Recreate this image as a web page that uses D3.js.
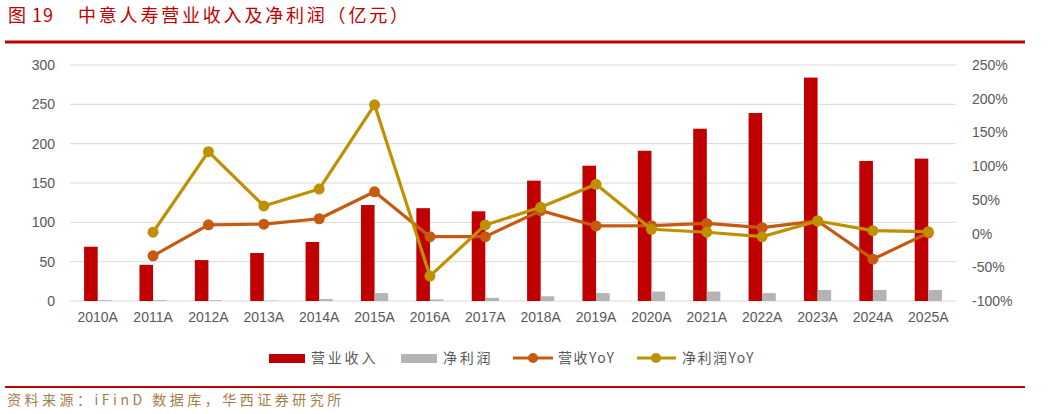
<!DOCTYPE html>
<html>
<head>
<meta charset="utf-8">
<title>中意人寿营业收入及净利润</title>
<style>
  body { margin: 0; background: #fff; }
  text { font-family: "Liberation Sans", Arial, sans-serif; }
  .cn { font-family: "Noto Sans CJK SC", sans-serif; }
</style>
</head>
<body>
<script src="https://cdn.jsdelivr.net/npm/d3@7"></script>
<script>
// 数据
const years = ["2010A","2011A","2012A","2013A","2014A","2015A","2016A","2017A","2018A","2019A","2020A","2021A","2022A","2023A","2024A","2025A"];
const revenue = [69, 46, 52, 61, 75, 122, 118, 114, 153, 172, 191, 219, 239, 284, 178, 181];
const profit = [1, 1, 1, 0.5, 2.5, 10, 2, 4, 6, 10, 12, 12, 10, 14, 14, 14];
const revYoY = [null, -33, 13, 14, 22, 62, -4.6, -4.6, 34, 11.3, 11.7, 15, 8.8, 18.7, -38, 1];
const profitYoY = [null, 2, 121.5, 41, 66, 191, -63, 12.8, 39, 73, 6.4, 2, -4.6, 18.7, 4.3, 2.8];
const leftTicks = [0, 50, 100, 150, 200, 250, 300];
const rightTicks = [-100, -50, 0, 50, 100, 150, 200, 250];

const W = 1053, H = 414;
const plot = { left: 70, right: 956, top: 65, bottom: 301 };

const svg = d3.select("body").append("svg")
    .attr("width", W)
    .attr("height", H);

// 标题
const title = svg.append("text").attr("class", "cn")
    .attr("y", 22).attr("fill", "#c00000").style("font-size", "18px");
title.append("tspan").attr("x", 8).attr("letter-spacing", "1px").text("图 19");
title.append("tspan").attr("x", 78).attr("letter-spacing", "2.8px").text("中意人寿营业收入及净利润（亿元）");

svg.append("line").attr("x1", 5).attr("x2", 1025).attr("y1", 42).attr("y2", 42)
    .attr("stroke", "#c00000").attr("stroke-width", 3);
svg.append("line").attr("x1", 5).attr("x2", 1025).attr("y1", 387).attr("y2", 387)
    .attr("stroke", "#c00000").attr("stroke-width", 2);

svg.append("text").attr("class", "cn")
    .attr("x", 7).attr("y", 405)
    .attr("fill", "#a0804a").style("font-size", "14px")
    .attr("letter-spacing", "3.5px")
    .text("资料来源：iFinD 数据库，华西证券研究所");

// 比例尺
const x = d3.scaleBand().domain(years).range([plot.left, plot.right]).paddingInner(0).paddingOuter(0);
const yL = d3.scaleLinear().domain([0, 300]).range([plot.bottom, plot.top]);
const yR = d3.scaleLinear().domain([-100, 250]).range([plot.bottom, plot.top]);

// 网格线
svg.append("g").selectAll("line")
    .data(leftTicks)
    .enter().append("line")
    .attr("x1", plot.left).attr("x2", plot.right)
    .attr("y1", d => yL(d)).attr("y2", d => yL(d))
    .attr("stroke", "#d9d9d9").attr("stroke-width", 1);

// 左轴
const axL = svg.append("g").attr("transform", "translate(" + (plot.left - 15) + ",0)")
    .call(d3.axisLeft(yL).tickValues(leftTicks).tickSize(0).tickPadding(0));
axL.select(".domain").remove();
axL.selectAll("text").attr("fill", "#595959").style("font-size", "14px").attr("font-family", "Liberation Sans, Arial, sans-serif");

// 右轴
const axR = svg.append("g").attr("transform", "translate(" + (plot.right + 16) + ",0)")
    .call(d3.axisRight(yR).tickValues(rightTicks).tickSize(0).tickPadding(0).tickFormat(d => d + "%"));
axR.select(".domain").remove();
axR.selectAll("text").attr("fill", "#595959").style("font-size", "14px").attr("font-family", "Liberation Sans, Arial, sans-serif");

// X轴
const axX = svg.append("g").attr("transform", "translate(0," + (plot.bottom + 8) + ")")
    .call(d3.axisBottom(x).tickSize(0).tickPadding(0));
axX.select(".domain").remove();
axX.selectAll("text").attr("fill", "#595959").style("font-size", "14px").attr("dy", "0.95em").attr("font-family", "Liberation Sans, Arial, sans-serif");

const bw = 13.6;
// 柱子
svg.append("g").selectAll("rect")
    .data(revenue)
    .enter().append("rect")
    .attr("x", (d, i) => x(years[i]) + x.bandwidth() / 2 - bw)
    .attr("y", d => yL(d))
    .attr("width", bw)
    .attr("height", d => yL(0) - yL(d))
    .attr("fill", "#c00000");

svg.append("g").selectAll("rect")
    .data(profit)
    .enter().append("rect")
    .attr("x", (d, i) => x(years[i]) + x.bandwidth() / 2)
    .attr("y", d => yL(d))
    .attr("width", bw)
    .attr("height", d => yL(0) - yL(d))
    .attr("fill", "#b4b4b4");

// 折线
function drawLine(values, color) {
    const pts = values.map((v, i) => [x(years[i]) + x.bandwidth() / 2, v]).filter(p => p[1] !== null);
    const line = d3.line().x(p => p[0]).y(p => yR(p[1]));
    svg.append("path").datum(pts)
        .attr("d", line)
        .attr("fill", "none")
        .attr("stroke", color)
        .attr("stroke-width", 3.2)
        .attr("stroke-linejoin", "round");
    svg.append("g").selectAll("circle")
        .data(pts)
        .enter().append("circle")
        .attr("cx", p => p[0])
        .attr("cy", p => yR(p[1]))
        .attr("r", 5.5)
        .attr("fill", color);
}
drawLine(revYoY, "#c55a11");
drawLine(profitYoY, "#bf9000");

// 图例
const lg = svg.append("g").attr("transform", "translate(0,358)");
const lgText = { fill: "#595959", size: "14px", spacing: "2.8px" };
lg.append("rect").attr("x", 269).attr("y", -4).attr("width", 36).attr("height", 9).attr("fill", "#c00000");
lg.append("text").attr("class", "cn").attr("x", 311).attr("y", 5).attr("fill", lgText.fill).style("font-size", lgText.size).attr("letter-spacing", lgText.spacing).text("营业收入");
lg.append("rect").attr("x", 401).attr("y", -4).attr("width", 36).attr("height", 9).attr("fill", "#b4b4b4");
lg.append("text").attr("class", "cn").attr("x", 443).attr("y", 5).attr("fill", lgText.fill).style("font-size", lgText.size).attr("letter-spacing", lgText.spacing).text("净利润");
lg.append("line").attr("x1", 513).attr("x2", 553).attr("y1", 0).attr("y2", 0).attr("stroke", "#c55a11").attr("stroke-width", 3.2);
lg.append("circle").attr("cx", 533).attr("cy", 0).attr("r", 5).attr("fill", "#c55a11");
lg.append("text").attr("class", "cn").attr("x", 558).attr("y", 5).attr("fill", lgText.fill).style("font-size", lgText.size).attr("letter-spacing", "1.5px").text("营收YoY");
lg.append("line").attr("x1", 637).attr("x2", 676).attr("y1", 0).attr("y2", 0).attr("stroke", "#bf9000").attr("stroke-width", 3.2);
lg.append("circle").attr("cx", 656).attr("cy", 0).attr("r", 5).attr("fill", "#bf9000");
lg.append("text").attr("class", "cn").attr("x", 682).attr("y", 5).attr("fill", lgText.fill).style("font-size", lgText.size).attr("letter-spacing", "1.5px").text("净利润YoY");
</script>
</body>
</html>
